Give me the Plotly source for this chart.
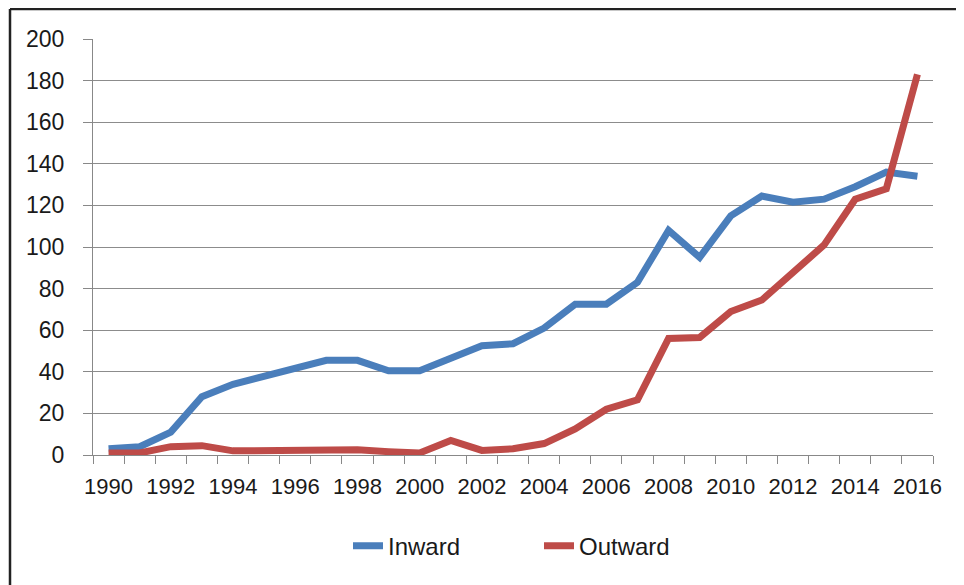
import plotly.graph_objects as go

years = list(range(1990, 2017))
inward = [3, 4, 11, 28, 34, 38, 42, 45.5, 45.5, 40.5, 40.5, 46.5, 52.5, 53.5, 61,
          72.5, 72.5, 83, 108, 95, 115, 124.5, 121.5, 123, 129, 136, 134]
outward = [1, 1, 4, 4.5, 2, 2, 2, 2.7, 2.5, 1.6, 1, 7, 2.2, 3, 5.5,
           12.5, 22, 26.5, 56, 56.5, 69, 74.5, 87.5, 101, 123, 128, 183]
tick_years = [y for y in years if y % 2 == 0]

blue = "#4A7EBB"
red = "#BE4B48"
font = "Liberation Sans"

fig = go.Figure()
fig.add_trace(go.Scatter(x=years, y=inward, name="Inward", mode="lines",
                         line=dict(color=blue, width=7)))
fig.add_trace(go.Scatter(x=years, y=outward, name="Outward", mode="lines",
                         line=dict(color=red, width=7)))

# page body has an 8px margin, so plot area 93..933 x 39..455 on screen
fig.update_layout(
    width=964, height=585,
    margin=dict(l=85, r=39, t=31, b=138),
    paper_bgcolor="white", plot_bgcolor="white",
    font=dict(family=font, size=23, color="#1a1a1a"),
    showlegend=True,
    legend=dict(orientation="h", x=(348 - 93) / 840, xanchor="left",
                y=-0.219, yanchor="middle",
                font=dict(size=24), entrywidth=146, tracegroupgap=0),
)

fig.update_xaxes(
    range=[1989.5, 2016.5], tickmode="array", tickvals=tick_years,
    ticks="", showgrid=False, showline=True, linecolor="#888888", linewidth=1,
    minor=dict(tickmode="linear", tick0=1989.5, dtick=1, ticks="outside",
               ticklen=8, tickcolor="#888888", showgrid=False),
    ticklabelstandoff=12, tickfont=dict(size=22),
)
fig.update_yaxes(
    range=[0, 200], dtick=20, ticks="outside", ticklen=9, tickcolor="#888888",
    showgrid=True, gridcolor="#8c8c8c", gridwidth=1,
    showline=True, linecolor="#888888", linewidth=1, zeroline=False,
    ticklabelstandoff=14,
)

# outer frame (top and left edges visible in the reference)
fig.add_shape(type="line", xref="paper", yref="paper",
              x0=(10 - 93) / 840, x1=(970 - 93) / 840,
              y0=(455 - 9) / 416, y1=(455 - 9) / 416,
              line=dict(color="#222222", width=2.5))
fig.add_shape(type="line", xref="paper", yref="paper",
              x0=(10 - 93) / 840, x1=(10 - 93) / 840,
              y0=(455 - 9) / 416, y1=(455 - 600) / 416,
              line=dict(color="#222222", width=2.5))

fig.write_html("out.html")
